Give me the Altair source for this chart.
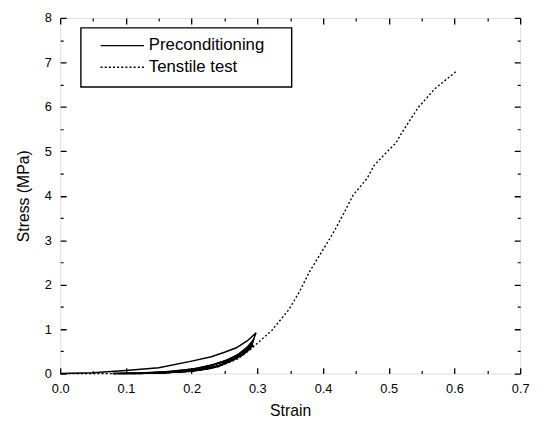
import altair as alt
import pandas as pd

# ---------------- data ----------------
series_names = ["Preconditioning", "Tenstile test"]

# preconditioning cycles (loading then unloading)
cyc1_strain = [0.0, 0.05, 0.10, 0.15, 0.20, 0.23, 0.25, 0.268, 0.285, 0.298,
               0.293, 0.285, 0.27, 0.25, 0.23, 0.20, 0.16, 0.12, 0.08]
cyc1_stress = [0.0, 0.02, 0.07, 0.13, 0.28, 0.38, 0.48, 0.58, 0.74, 0.92,
               0.72, 0.55, 0.38, 0.22, 0.12, 0.06, 0.025, 0.008, 0.0]
cyc2_strain = [0.08, 0.12, 0.16, 0.20, 0.23, 0.25, 0.27, 0.285, 0.295,
               0.29, 0.28, 0.265, 0.245, 0.225, 0.20, 0.16, 0.12, 0.09]
cyc2_stress = [0.0, 0.015, 0.04, 0.10, 0.19, 0.28, 0.42, 0.60, 0.78,
               0.64, 0.50, 0.34, 0.19, 0.11, 0.05, 0.02, 0.005, 0.0]
cyc3_strain = [0.09, 0.13, 0.17, 0.21, 0.235, 0.255, 0.273, 0.287, 0.294,
               0.288, 0.278, 0.262, 0.242, 0.22, 0.19, 0.15, 0.11]
cyc3_stress = [0.0, 0.015, 0.045, 0.12, 0.21, 0.31, 0.45, 0.60, 0.72,
               0.60, 0.47, 0.32, 0.18, 0.10, 0.045, 0.015, 0.0]
cyc4_strain = [0.11, 0.15, 0.19, 0.225, 0.25, 0.27, 0.285, 0.293,
               0.287, 0.276, 0.26, 0.24, 0.215, 0.18, 0.14, 0.12]
cyc4_stress = [0.0, 0.02, 0.06, 0.16, 0.27, 0.40, 0.54, 0.66,
               0.56, 0.44, 0.30, 0.17, 0.09, 0.04, 0.01, 0.0]
cyc5_strain = [0.12, 0.16, 0.20, 0.23, 0.255, 0.275, 0.288, 0.294,
               0.288, 0.278, 0.262, 0.242, 0.22, 0.19, 0.16]
cyc5_stress = [0.0, 0.025, 0.08, 0.18, 0.30, 0.44, 0.56, 0.64,
               0.54, 0.42, 0.29, 0.17, 0.10, 0.05, 0.02]

# tensile test
tens_strain = [0.0, 0.10, 0.15, 0.20, 0.24, 0.27, 0.29, 0.300, 0.322, 0.348,
               0.364, 0.379, 0.400, 0.415, 0.431, 0.446, 0.467, 0.4775, 0.498,
               0.511, 0.519, 0.545, 0.571, 0.602]
tens_stress = [0.0, 0.0, 0.01, 0.05, 0.15, 0.33, 0.55, 0.68, 0.97, 1.44,
               1.84, 2.28, 2.79, 3.15, 3.59, 4.02, 4.39, 4.68, 5.00,
               5.19, 5.40, 5.99, 6.42, 6.79]

x_major = [0.0, 0.1, 0.2, 0.3, 0.4, 0.5, 0.6, 0.7]
x_minor = [0.05, 0.15, 0.25, 0.35, 0.45, 0.55, 0.65]
y_major = [0, 1, 2, 3, 4, 5, 6, 7, 8]
y_minor = [0.5, 1.5, 2.5, 3.5, 4.5, 5.5, 6.5, 7.5]

# ---------------- tables ----------------
rows = []
for c, (xs, ys) in enumerate([(cyc1_strain, cyc1_stress), (cyc2_strain, cyc2_stress),
                              (cyc3_strain, cyc3_stress), (cyc4_strain, cyc4_stress),
                              (cyc5_strain, cyc5_stress)]):
    for i, (a, b) in enumerate(zip(xs, ys)):
        rows.append({"strain": a, "stress": b, "cycle": c, "idx": i})
pre_df = pd.DataFrame(rows)
ten_df = pd.DataFrame({"strain": tens_strain, "stress": tens_stress,
                       "idx": list(range(len(tens_strain)))})
one = pd.DataFrame({"k": [0]})

W, H = 467, 361
FONT = "Liberation Sans"
DOT = [2, 2.2]

xscale = alt.Scale(domain=[0, 0.7], nice=False, zero=False)
yscale = alt.Scale(domain=[0, 8], nice=False)

pre = alt.Chart(pre_df).mark_line(color="black", strokeWidth=1.5).encode(
    x=alt.X("strain:Q", scale=xscale,
            axis=alt.Axis(values=x_major, format=".1f", title="Strain",
                          labelFont=FONT, labelFontSize=13, labelColor="black",
                          labelPadding=9, ticks=False, domain=False,
                          grid=True, gridColor="black", gridWidth=1.3,
                          gridDash=[6, H - 12, 6, 1000], gridOpacity=1,
                          titleFont=FONT, titleFontSize=16, titleFontWeight="normal",
                          titleColor="black", titlePadding=8, labelFlush=False)),
    y=alt.Y("stress:Q", scale=yscale,
            axis=alt.Axis(values=y_major, format="d", title="Stress (MPa)",
                          labelFont=FONT, labelFontSize=13, labelColor="black",
                          labelPadding=9, ticks=False, domain=False,
                          grid=True, gridColor="black", gridWidth=1.3,
                          gridDash=[6, W - 12, 6, 1000], gridOpacity=1,
                          titleFont=FONT, titleFontSize=16, titleFontWeight="normal",
                          titleColor="black", titlePadding=13, labelFlush=False)),
    detail="cycle:N",
    order="idx:Q",
)

ten = alt.Chart(ten_df).mark_line(color="black", strokeWidth=1.4, strokeDash=DOT).encode(
    x=alt.X("strain:Q", scale=xscale,
            axis=alt.Axis(orient="top", values=x_minor, labels=False, ticks=False,
                          domain=False, title=None, grid=True, gridColor="black",
                          gridWidth=1.2, gridOpacity=1, gridDash=[3, H - 6, 3, 1000])),
    y=alt.Y("stress:Q", scale=yscale,
            axis=alt.Axis(orient="right", values=y_minor, labels=False, ticks=False,
                          domain=False, title=None, grid=True, gridColor="black",
                          gridWidth=1.2, gridOpacity=1, gridDash=[3, W - 6, 3, 1000])),
    order="idx:Q",
)

# ---- legend (decoration, positioned in plot pixels) ----
leg_box = alt.Chart(one).mark_rect(fill="white", stroke="black", strokeWidth=1.4).encode(
    x=alt.value(21), x2=alt.value(235), y=alt.value(10), y2=alt.value(70))
leg_l1 = alt.Chart(one).mark_rule(color="black", strokeWidth=1.3).encode(
    x=alt.value(41), x2=alt.value(85), y=alt.value(28))
leg_l2 = alt.Chart(one).mark_rule(color="black", strokeWidth=1.3, strokeDash=DOT).encode(
    x=alt.value(41), x2=alt.value(85), y=alt.value(50))
leg_t1 = alt.Chart(one).mark_text(text=series_names[0], font=FONT, fontSize=17,
                                  align="left", baseline="middle", color="black").encode(
    x=alt.value(90), y=alt.value(28))
leg_t2 = alt.Chart(one).mark_text(text=series_names[1], font=FONT, fontSize=17,
                                  align="left", baseline="middle", color="black").encode(
    x=alt.value(90), y=alt.value(50))

chart = alt.layer(pre, ten, leg_box, leg_l1, leg_l2, leg_t1, leg_t2).resolve_axis(
    x="independent", y="independent").properties(
    width=W, height=H, autosize="none",
    padding={"left": 53, "top": 7, "right": 13, "bottom": 44},
).configure_view(stroke="black", strokeWidth=1.5).configure(background="white")

chart.save("out.html", embed_options={"renderer": "svg", "actions": False})
